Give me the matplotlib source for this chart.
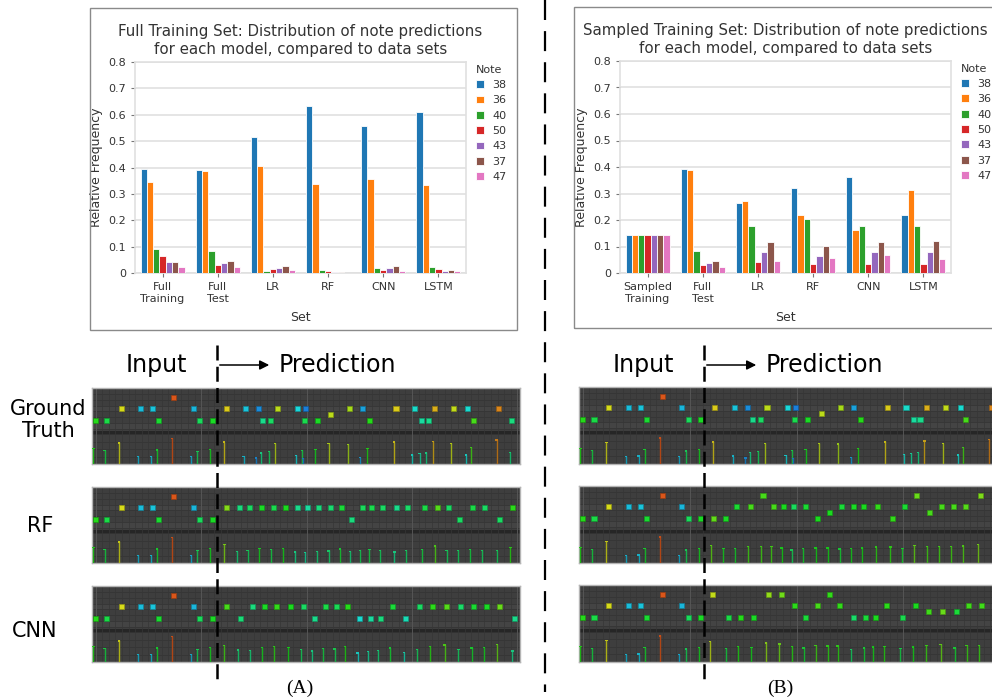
import colorsys
import numpy as np
import matplotlib
matplotlib.use('Agg')
import matplotlib.pyplot as plt
from matplotlib.patches import Rectangle, FancyArrowPatch
from matplotlib.lines import Line2D

#------------------------------------- DATA --------------------------------------------

note_labels = ['38', '36', '40', '50', '43', '37', '47']
note_colors = ['#1f77b4', '#ff7f0e', '#2ca02c', '#d62728', '#9467bd', '#8c564b', '#e377c2']

full_sets = ['Full\nTraining', 'Full\nTest', 'LR', 'RF', 'CNN', 'LSTM']
sampled_sets = ['Sampled\nTraining', 'Full\nTest', 'LR', 'RF', 'CNN', 'LSTM']

# relative frequency: one row per note, one column per set
full_freq = [
    [0.396, 0.391, 0.517, 0.635, 0.557, 0.609],  # 38
    [0.345, 0.387, 0.406, 0.338, 0.357, 0.333],  # 36
    [0.092, 0.083, 0.008, 0.013, 0.019, 0.021],  # 40
    [0.064, 0.031, 0.016, 0.008, 0.013, 0.015],  # 50
    [0.042, 0.039, 0.018, 0.003, 0.020, 0.006],  # 43
    [0.042, 0.047, 0.028, 0.003, 0.028, 0.010],  # 37
    [0.021, 0.024, 0.010, 0.001, 0.008, 0.006],  # 47
]
sampled_freq = [
    [0.143, 0.391, 0.265, 0.319, 0.362, 0.220],  # 38
    [0.143, 0.387, 0.273, 0.217, 0.161, 0.312],  # 36
    [0.143, 0.083, 0.178, 0.205, 0.178, 0.179],  # 40
    [0.143, 0.031, 0.040, 0.033, 0.033, 0.033],  # 50
    [0.143, 0.039, 0.078, 0.063, 0.079, 0.081],  # 43
    [0.143, 0.047, 0.116, 0.103, 0.116, 0.121],  # 37
    [0.143, 0.024, 0.047, 0.057, 0.067, 0.053],  # 47
]

# piano roll notes: (16th step, key row, midi velocity)
input_notes = [
    (-0.4, 0, 69), (1.3, 0, 61), (3.5, 2, 95), (6.4, 2, 35), (8.3, 2, 36),
    (9.2, 0, 64), (11.5, 4, 115), (14.4, 2, 34), (15.4, 0, 58), (17.3, 0, 66),
]
truth_notes = [
    (19.4, 2, 98), (22.4, 2, 36), (24.3, 2, 28), (25.0, 0, 51), (26.2, 0, 57),
    (27.2, 2, 91), (30.3, 2, 39), (31.3, 0, 60), (31.4, 2, 26), (33.3, 0, 66),
    (35.3, 1, 91), (38.2, 2, 88), (40.1, 2, 31), (41.2, 0, 69), (45.2, 2, 98),
    (48.0, 2, 42), (49.1, 0, 48), (50.1, 0, 51), (51.1, 2, 102), (53.9, 2, 92),
    (56.1, 2, 41), (56.9, 0, 74), (60.8, 2, 108), (62.8, 0, 53),
]
rf_full_notes = [
    (19.5, 2, 83), (21.4, 2, 53), (23.0, 2, 57), (24.8, 2, 66), (26.6, 2, 60),
    (28.4, 2, 67), (30.2, 2, 51), (31.7, 2, 48), (33.5, 2, 53), (35.3, 2, 55),
    (37.0, 2, 63), (38.5, 0, 53), (40.1, 2, 58), (41.5, 2, 60), (43.1, 2, 57),
    (45.3, 2, 51), (47.0, 2, 56), (49.5, 2, 61), (51.5, 2, 76), (53.2, 2, 57),
    (54.9, 0, 57), (56.8, 2, 61), (58.6, 2, 57), (60.9, 0, 57), (62.9, 2, 70),
]
cnn_full_notes = [
    (19.4, 2, 74), (21.6, 0, 54), (23.4, 2, 53), (25.2, 2, 66), (27.0, 2, 71),
    (29.2, 2, 67), (31.1, 2, 57), (32.8, 0, 51), (34.5, 2, 61), (36.2, 2, 59),
    (37.8, 2, 69), (39.7, 0, 41), (41.3, 0, 48), (42.8, 0, 53), (44.6, 2, 63),
    (46.7, 0, 45), (48.7, 2, 57), (50.7, 2, 70), (52.9, 2, 76), (55.0, 2, 56),
    (57.0, 2, 64), (58.9, 2, 66), (60.9, 2, 79), (63.2, 0, 51),
]
rf_sampled_notes = [
    (19.2, 0, 78), (21.0, 0, 66), (22.7, 2, 64), (24.7, 2, 74), (26.6, 4, 74),
    (28.2, 2, 74), (29.7, 2, 67), (31.2, 2, 58), (32.9, 2, 64), (34.8, 0, 67),
    (36.6, 1, 67), (38.4, 2, 63), (40.1, 2, 66), (41.7, 2, 67), (43.8, 2, 71),
    (46.0, 0, 71), (47.8, 2, 64), (49.6, 4, 79), (51.5, 1, 74), (53.3, 2, 74),
    (55.1, 2, 74), (56.9, 2, 76), (59.1, 4, 82),
]
cnn_sampled_notes = [
    (19.0, 4, 92), (21.4, 0, 61), (23.2, 0, 69), (25.2, 0, 66), (27.4, 4, 85),
    (29.4, 4, 80), (31.3, 2, 70), (33.0, 0, 63), (34.8, 2, 74), (36.6, 4, 71),
    (38.1, 2, 71), (40.1, 0, 56), (42.0, 0, 63), (43.4, 0, 67), (45.1, 2, 70),
    (47.5, 0, 60), (49.4, 2, 67), (51.4, 1, 73), (53.5, 1, 79), (55.6, 1, 63),
    (57.4, 2, 73), (59.3, 2, 73),
]

#------------------------------------- HELPERS --------------------------------------------

W, H = 992, 700
fig = plt.figure(figsize=(W / 100, H / 100), dpi=100)


def box(x, y, w, h):
    # pixel box (top-left origin) -> figure fraction
    return [x / W, 1 - (y + h) / H, w / W, h / H]


def fx(x):
    return x / W


def fy(y):
    return 1 - y / H


def draw_bars(ax, sets, freq, title):
    xs = np.arange(len(sets))
    n = len(note_labels)
    bw = 0.8 / n
    for i in range(n):
        ax.bar(xs - 0.4 + bw * (i + 0.5), freq[i], bw, color=note_colors[i],
               edgecolor='white', linewidth=0.6, label=note_labels[i], zorder=3)
    ax.set_xlim(-0.5, len(sets) - 0.5)
    ax.set_ylim(0, 0.8)
    ax.set_yticks(np.arange(0, 0.81, 0.1))
    ax.set_yticklabels(['0'] + ['%.1f' % v for v in np.arange(0.1, 0.81, 0.1)])
    ax.set_xticks(xs)
    ax.set_xticklabels(sets)
    ax.grid(axis='y', color='#e3e3e3', linewidth=1.3, zorder=0)
    ax.set_axisbelow(True)
    for sp in ax.spines.values():
        sp.set_color('#e0e0e0')
        sp.set_linewidth(1.2)
    ax.tick_params(labelsize=8, colors='#333333', length=3, width=0.8)
    ax.tick_params(color='#777777')
    ax.set_ylabel('Relative Frequency', fontsize=9, color='#333333', labelpad=4)
    ax.set_xlabel('Set', fontsize=9, color='#333333', labelpad=5)
    ax.set_title(title, fontsize=10.8, color='#333333', linespacing=1.2, pad=6)
    leg = ax.legend(title='Note', loc='upper left', bbox_to_anchor=(1.0, 1.035),
                    frameon=False, fontsize=8, title_fontsize=8,
                    handlelength=0.7, handleheight=0.7, handletextpad=0.8,
                    labelspacing=0.48, borderaxespad=0.5, alignment='left')
    for t in leg.get_texts():
        t.set_color('#333333')
    leg.get_title().set_color('#333333')


def vel_color(vel, shade=1.0):
    v = vel / 127
    hue = (210 - (v - 0.2) / 0.7 * 190) / 360
    hue = min(max(hue, 0.0), 0.6)
    return colorsys.hsv_to_rgb(hue, 0.88, 0.86 * shade)


def row_y(r):
    return 44 + 5.75 * r


def draw_roll(ax, notes):
    ax.set_xlim(-0.56, 64.4)
    ax.set_ylim(0, 76)
    ax.set_facecolor('#3e3e3e')
    # key rows
    for r in range(-2, 6):
        y0 = row_y(r) - 2.875
        ax.axhspan(y0, y0 + 5.75, color='#444444' if r in (2, -1) else '#3e3e3e', lw=0)
        ax.axhline(y0, color='#353535', lw=0.6)
    for y in (7.5, 15, 22.5):
        ax.axhline(y, color='#353535', lw=0.6)
    ax.axhspan(29, 33, color='#262626', lw=0)
    ax.vlines(np.arange(0, 65), 0, 76, color='#363636', lw=0.5)
    ax.vlines(np.arange(0, 65, 16), 0, 76, color='#555555', lw=0.7)
    for step, row, vel in notes:
        c = vel_color(vel)
        ax.add_patch(Rectangle((step, row_y(row) - 2.5), 0.76, 5, facecolor=c,
                               edgecolor=vel_color(vel, 0.7), lw=0.5, zorder=3))
        top = vel / 127 * 29
        ax.vlines(step + 0.05, 0, top, color=vel_color(vel, 0.8), lw=1.0, zorder=3)
        ax.add_patch(Rectangle((step - 0.12, top - 1.2), 0.34, 1.4,
                               facecolor=vel_color(vel, 0.9), lw=0, zorder=4))
    ax.set_xticks([])
    ax.set_yticks([])
    for sp in ax.spines.values():
        sp.set_color('#b4b4b4')
        sp.set_linewidth(1.0)


#------------------------------------- BAR CHARTS --------------------------------------------

ax1 = fig.add_axes(box(135, 62, 331, 211))
draw_bars(ax1, full_sets, full_freq,
          'Full Training Set: Distribution of note predictions\nfor each model, compared to data sets')

ax2 = fig.add_axes(box(620, 61, 331, 212))
draw_bars(ax2, sampled_sets, sampled_freq,
          'Sampled Training Set: Distribution of note predictions\nfor each model, compared to data sets')

# frames round the two charts
fig.add_artist(Rectangle((fx(90), fy(330)), 427 / W, 322 / H, transform=fig.transFigure,
                         fill=False, edgecolor='#8a8a8a', lw=1.0))
fig.add_artist(Rectangle((fx(574), fy(328)), 430 / W, 321 / H, transform=fig.transFigure,
                         fill=False, edgecolor='#8a8a8a', lw=1.0))

#------------------------------------- PIANO ROLLS --------------------------------------------

left_panels = [(388, input_notes + truth_notes),
               (487, input_notes + rf_full_notes),
               (586, input_notes + cnn_full_notes)]
right_panels = [(387, input_notes + truth_notes),
                (486, input_notes + rf_sampled_notes),
                (585, input_notes + cnn_sampled_notes)]

for top, notes in left_panels:
    draw_roll(fig.add_axes(box(92, top, 428, 76)), notes)
for top, notes in right_panels:
    draw_roll(fig.add_axes(box(579, top, 434, 77)), notes)

row_names = [('Ground\nTruth', 48, 420), ('RF', 40, 526), ('CNN', 35, 631)]
for name, x, y in row_names:
    fig.text(fx(x), fy(y), name, ha='center', va='center', fontsize=15, linespacing=1.15)

for x_line, x_input in ((217, 156), (704, 643)):
    fig.add_artist(Line2D([fx(x_line)] * 2, [fy(345), fy(680)], transform=fig.transFigure,
                          color='black', lw=1.8, ls=(0, (6, 2.5))))
    fig.text(fx(x_input), fy(365), 'Input', ha='center', va='center', fontsize=17)
    fig.add_artist(FancyArrowPatch((fx(x_line), fy(365)), (fx(x_line + 55), fy(365)),
                                   transform=fig.transFigure, arrowstyle='-|>',
                                   mutation_scale=14, lw=1.1, color='black'))
    fig.text(fx(x_line + 62), fy(365), 'Prediction', ha='left', va='center', fontsize=17)

# separator between (A) and (B)
fig.add_artist(Line2D([fx(545)] * 2, [fy(0), fy(692)], transform=fig.transFigure,
                      color='black', lw=1.6, ls=(0, (9, 5))))

fig.text(fx(300), fy(688), '(A)', ha='center', va='center', fontsize=14,
         family='Liberation Serif')
fig.text(fx(780), fy(688), '(B)', ha='center', va='center', fontsize=14,
         family='Liberation Serif')

fig.savefig('out.png', dpi=100)
